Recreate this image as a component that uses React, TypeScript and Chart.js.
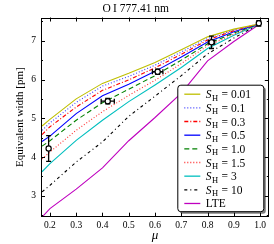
import React, { useEffect, useRef } from "react";
import { Chart, registerables } from "chart.js";

Chart.register(...registerables);

// ---- data ----
const MU = [0.17, 0.2, 0.3, 0.4, 0.5, 0.6, 0.7, 0.8, 0.9, 1.0];
const EW_S001 = [4.8, 4.97, 5.5, 5.9, 6.16, 6.44, 6.77, 7.1, 7.3, 7.44];
const EW_S01 = [4.69, 4.88, 5.41, 5.83, 6.08, 6.37, 6.71, 7.06, 7.28, 7.44];
const EW_S03 = [4.58, 4.78, 5.29, 5.72, 5.99, 6.3, 6.65, 7.02, 7.26, 7.44];
const EW_S05 = [4.4, 4.54, 5.12, 5.58, 5.88, 6.21, 6.58, 6.97, 7.23, 7.44];
const EW_S10 = [4.28, 4.42, 4.95, 5.4, 5.75, 6.1, 6.5, 6.92, 7.2, 7.44];
const EW_S15 = [3.95, 4.13, 4.69, 5.17, 5.59, 5.98, 6.41, 6.87, 7.17, 7.44];
const EW_S3 = [3.62, 3.83, 4.43, 4.95, 5.43, 5.86, 6.31, 6.8, 7.14, 7.44];
const EW_S100 = [3.1, 3.27, 3.87, 4.39, 5.05, 5.57, 6.1, 6.66, 7.07, 7.44];
const EW_LTE = [2.45, 2.67, 3.17, 3.72, 4.42, 5.02, 5.65, 6.48, 6.98, 7.44];

const SERIES_VALUES = ["0.01", "0.1", "0.3", "0.5", "1.0", "1.5", "3", "10", "LTE"];

const OBS_MU = [0.195, 0.42, 0.61, 0.815, 0.995];
const OBS_EW = [4.22, 5.44, 6.2, 6.96, 7.45];
const OBS_YERR = [0.33, 0.07, 0.07, 0.16, 0.07];
const OBS_XERR = [0, 0.025, 0.02, 0.012, 0];

const X_TICKS = [0.2, 0.3, 0.4, 0.5, 0.6, 0.7, 0.8, 0.9, 1.0];
const Y_TICKS = [3, 4, 5, 6, 7];
const Y_MINOR = [2.5, 3.5, 4.5, 5.5, 6.5, 7.5];

const TITLE = "O\u2009I 777.41 nm";
const Y_LABEL = "Equivalent width [pm]";
const X_LABEL = "\u03bc";

// ---- styles ----
const SERIES_STYLE = [
  { color: "#bfbf00", dash: [] as number[] },
  { color: "#3a3aff", dash: [1, 2] },
  { color: "#ff0000", dash: [4, 2, 1, 2] },
  { color: "#0000ff", dash: [] },
  { color: "#008000", dash: [5, 3] },
  { color: "#ff3030", dash: [1, 2] },
  { color: "#00bfbf", dash: [] },
  { color: "#000000", dash: [3, 3, 1, 3] },
  { color: "#bf00bf", dash: [] },
];
const SERIES_DATA = [EW_S001, EW_S01, EW_S03, EW_S05, EW_S10, EW_S15, EW_S3, EW_S100, EW_LTE];

const SERIF = '"Liberation Serif", "DejaVu Serif", serif';

const frameTicksPlugin = {
  id: "frameTicks",
  afterDraw(chart: any) {
    const { ctx, chartArea: a, scales } = chart;
    const xs = scales.x;
    const ys = scales.y;
    ctx.save();
    ctx.strokeStyle = "#000";
    ctx.lineWidth = 1;
    ctx.setLineDash([]);
    ctx.strokeRect(Math.round(a.left) + 0.5, Math.round(a.top) + 0.5, Math.round(a.right - a.left) - 1, Math.round(a.bottom - a.top) - 1);
    ctx.beginPath();
    X_TICKS.forEach((v) => {
      const x = Math.round(xs.getPixelForValue(v)) + 0.5;
      ctx.moveTo(x, a.bottom);
      ctx.lineTo(x, a.bottom - 4);
      ctx.moveTo(x, a.top);
      ctx.lineTo(x, a.top + 4);
    });
    Y_TICKS.forEach((v) => {
      const y = Math.round(ys.getPixelForValue(v)) + 0.5;
      ctx.moveTo(a.left, y);
      ctx.lineTo(a.left + 4, y);
      ctx.moveTo(a.right, y);
      ctx.lineTo(a.right - 4, y);
    });
    Y_MINOR.forEach((v) => {
      const y = Math.round(ys.getPixelForValue(v)) + 0.5;
      if (y < a.top || y > a.bottom) return;
      ctx.moveTo(a.left, y);
      ctx.lineTo(a.left + 2, y);
      ctx.moveTo(a.right, y);
      ctx.lineTo(a.right - 2, y);
    });
    ctx.stroke();
    ctx.restore();
  },
};

const errorBarPlugin = {
  id: "errorBars",
  beforeDatasetDraw(chart: any, args: any) {
    if (args.index !== 0) return;
    const { ctx, scales } = chart;
    const xs = scales.x;
    const ys = scales.y;
    ctx.save();
    ctx.strokeStyle = "#000";
    ctx.lineWidth = 1.3;
    ctx.setLineDash([]);
    ctx.beginPath();
    OBS_MU.forEach((m, i) => {
      const x = xs.getPixelForValue(m);
      const y = ys.getPixelForValue(OBS_EW[i]);
      if (OBS_YERR[i] > 0) {
        const y1 = ys.getPixelForValue(OBS_EW[i] - OBS_YERR[i]);
        const y2 = ys.getPixelForValue(OBS_EW[i] + OBS_YERR[i]);
        ctx.moveTo(x, y1);
        ctx.lineTo(x, y2);
        ctx.moveTo(x - 2.5, y1);
        ctx.lineTo(x + 2.5, y1);
        ctx.moveTo(x - 2.5, y2);
        ctx.lineTo(x + 2.5, y2);
      }
      if (OBS_XERR[i] > 0) {
        const x1 = xs.getPixelForValue(m - OBS_XERR[i]);
        const x2 = xs.getPixelForValue(m + OBS_XERR[i]);
        ctx.moveTo(x1, y);
        ctx.lineTo(x2, y);
        ctx.moveTo(x1, y - 2.5);
        ctx.lineTo(x1, y + 2.5);
        ctx.moveTo(x2, y - 2.5);
        ctx.lineTo(x2, y + 2.5);
      }
    });
    ctx.stroke();
    ctx.restore();
  },
};

function roundRectPath(ctx: CanvasRenderingContext2D, x: number, y: number, w: number, h: number, r: number) {
  ctx.beginPath();
  ctx.moveTo(x + r, y);
  ctx.lineTo(x + w - r, y);
  ctx.quadraticCurveTo(x + w, y, x + w, y + r);
  ctx.lineTo(x + w, y + h - r);
  ctx.quadraticCurveTo(x + w, y + h, x + w - r, y + h);
  ctx.lineTo(x + r, y + h);
  ctx.quadraticCurveTo(x, y + h, x, y + h - r);
  ctx.lineTo(x, y + r);
  ctx.quadraticCurveTo(x, y, x + r, y);
  ctx.closePath();
}

const legendPlugin = {
  id: "shLegend",
  afterDatasetsDraw(chart: any) {
    const { ctx, chartArea: a } = chart;
    const items = chart.data.datasets.filter((d: any) => d.legendValue);
    const rowH = 13.66;
    const w = 86;
    const h = 126.5;
    const right = a.right - 5;
    const bottom = a.bottom - 5;
    const left = right - w;
    const top = bottom - h;
    ctx.save();
    ctx.setLineDash([]);
    ctx.fillStyle = "rgba(0,0,0,0.5)";
    roundRectPath(ctx, left + 2, top + 2, w, h, 3);
    ctx.fill();
    ctx.fillStyle = "#fff";
    roundRectPath(ctx, left, top, w, h, 3);
    ctx.fill();
    ctx.strokeStyle = "#000";
    ctx.lineWidth = 1;
    ctx.stroke();
    items.forEach((d: any, i: number) => {
      const y = top + 9 + i * rowH;
      ctx.beginPath();
      ctx.setLineDash(d.borderDash || []);
      ctx.strokeStyle = d.borderColor;
      ctx.lineWidth = 1.3;
      ctx.moveTo(left + 6.5, y);
      ctx.lineTo(left + 22.5, y);
      ctx.stroke();
      ctx.setLineDash([]);
      ctx.fillStyle = "#000";
      ctx.textBaseline = "alphabetic";
      ctx.textAlign = "left";
      let x = left + 28;
      const base = y + 4;
      if (d.legendValue === "LTE") {
        ctx.font = `11.5px ${SERIF}`;
        ctx.fillText("LTE", x, base);
      } else {
        ctx.font = `italic 11.5px ${SERIF}`;
        ctx.fillText("S", x, base);
        x += ctx.measureText("S").width + 0.5;
        ctx.font = `8.5px ${SERIF}`;
        ctx.fillText("H", x, base + 2.5);
        x += ctx.measureText("H").width + 0.5;
        ctx.font = `11.5px ${SERIF}`;
        ctx.fillText(" = " + d.legendValue, x, base);
      }
    });
    ctx.restore();
  },
};

export default function App() {
  const ref = useRef<HTMLCanvasElement | null>(null);
  useEffect(() => {
    document.body.style.margin = "0";
    const canvas = ref.current;
    if (!canvas) return;
    const modelSets = SERIES_DATA.map((vals, i) => ({
      label: SERIES_VALUES[i] === "LTE" ? "LTE" : "S_H = " + SERIES_VALUES[i],
      legendValue: SERIES_VALUES[i],
      data: MU.map((m, j) => ({ x: m, y: vals[j] })),
      borderColor: SERIES_STYLE[i].color,
      backgroundColor: SERIES_STYLE[i].color,
      borderDash: SERIES_STYLE[i].dash,
      borderWidth: 1.1,
      pointRadius: 0,
      tension: 0,
      fill: false,
    }));
    const obsSet = {
      label: "observed",
      data: OBS_MU.map((m, i) => ({ x: m, y: OBS_EW[i] })),
      showLine: false,
      pointRadius: 2.6,
      pointBorderWidth: 1.2,
      pointBackgroundColor: "#fff",
      pointBorderColor: "#000",
      borderColor: "#000",
      backgroundColor: "#fff",
    };
    const chart = new Chart(canvas, {
      type: "line",
      data: { datasets: [obsSet as any, ...modelSets] },
      options: {
        animation: false,
        responsive: false,
        devicePixelRatio: 1,
        layout: { padding: { right: 2.5, left: 0, top: 0, bottom: 0 } },
        plugins: {
          legend: { display: false },
          tooltip: { enabled: false },
          title: {
            display: true,
            text: TITLE,
            color: "#000",
            font: { family: SERIF, size: 11.5, weight: "normal" as any },
            padding: { top: 2, bottom: 1.7 },
          },
        },
        scales: {
          x: {
            type: "linear",
            min: 0.166,
            max: 1.033,
            afterFit: (s: any) => {
              s.height = 27.3;
            },
            afterBuildTicks: (s: any) => {
              s.ticks = X_TICKS.map((v) => ({ value: v }));
            },
            grid: { display: false, drawTicks: false },
            border: { display: false },
            ticks: {
              color: "#000",
              font: { family: SERIF, size: 9.5 },
              padding: 3,
              maxRotation: 0,
              autoSkip: false,
              callback: (v: any) => Number(v).toFixed(1),
            },
            title: {
              display: true,
              text: X_LABEL,
              color: "#000",
              font: { family: SERIF, size: 13, style: "italic" },
              padding: { top: 0, bottom: 0.5 },
            },
          },
          y: {
            type: "linear",
            min: 2.46,
            max: 7.6,
            afterFit: (s: any) => {
              s.width = 41;
            },
            afterBuildTicks: (s: any) => {
              s.ticks = Y_TICKS.map((v) => ({ value: v }));
            },
            grid: { display: false, drawTicks: false },
            border: { display: false },
            ticks: {
              color: "#000",
              font: { family: SERIF, size: 9.5 },
              padding: 5,
              autoSkip: false,
              callback: (v: any) => String(v),
            },
            title: {
              display: true,
              text: Y_LABEL,
              color: "#000",
              font: { family: SERIF, size: 11 },
              padding: { top: 14, bottom: 0 },
            },
          },
        },
      },
      plugins: [errorBarPlugin, legendPlugin, frameTicksPlugin],
    });
    return () => chart.destroy();
  }, []);
  return <canvas ref={ref} width={274} height={244} style={{ display: "block" }} />;
}
